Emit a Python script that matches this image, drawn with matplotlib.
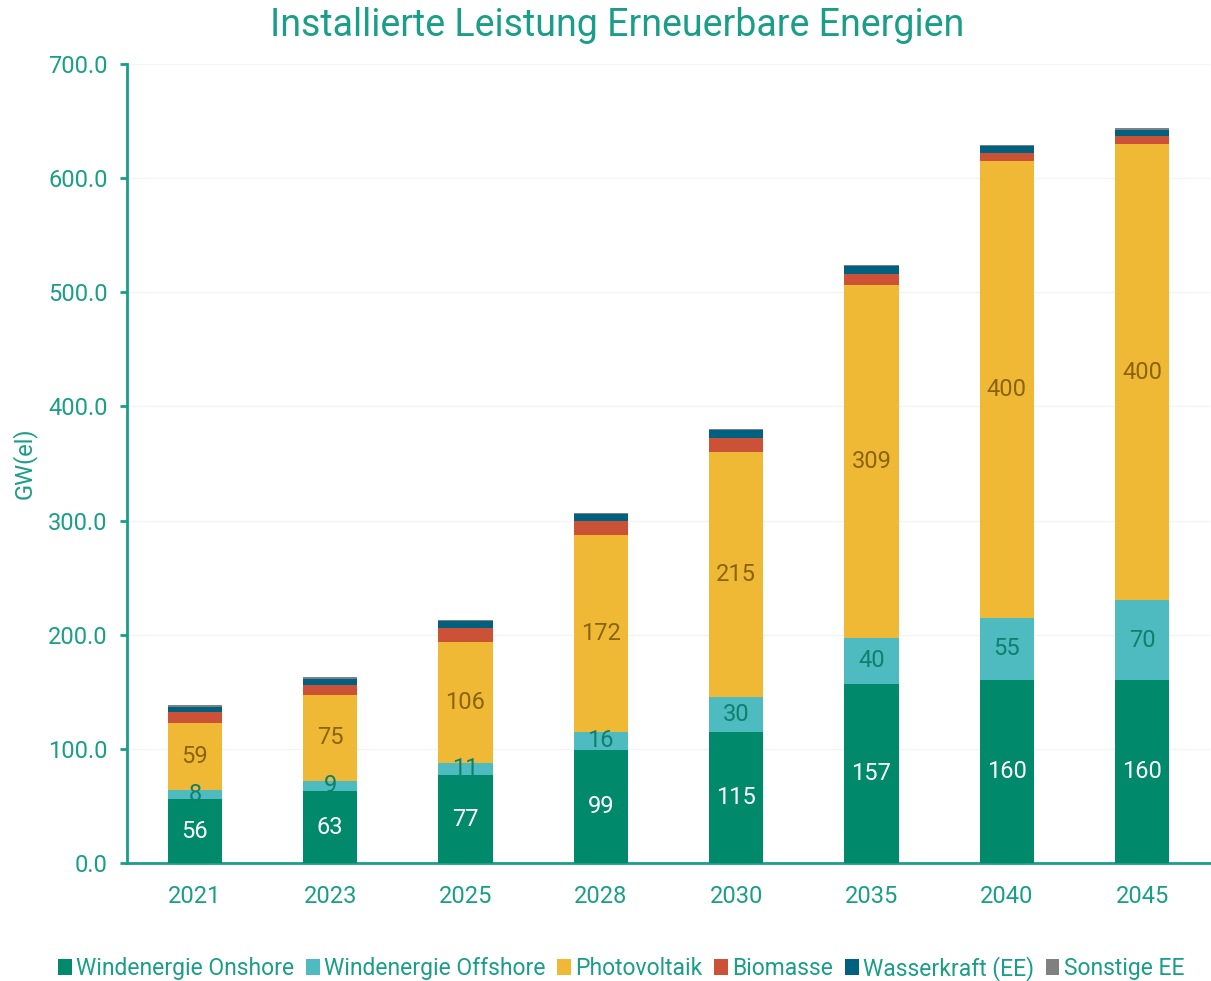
import numpy as np
import matplotlib.pyplot as plt
from matplotlib.ticker import FormatStrFormatter

plt.rcParams['font.family'] = ['Roboto', 'DejaVu Sans']

years = ['2021', '2023', '2025', '2028', '2030', '2035', '2040', '2045']
onshore = [56, 63, 77, 99, 115, 157, 160, 160]
offshore = [8, 9, 11, 16, 30, 40, 55, 70]
pv = [59, 75, 106, 172, 215, 309, 400, 400]
biomasse = [9, 9, 12, 13, 12.6, 10.2, 7.3, 7]
wasser = [5, 5, 5.8, 5.5, 6.4, 6.4, 6.1, 5]
sonstige = [1.5, 1.5, 1.5, 1.5, 1, 1.5, 1, 2]

series = [
    ('Windenergie Onshore', onshore, '#00896b', 'white'),
    ('Windenergie Offshore', offshore, '#4dbbbf', '#10806c'),
    ('Photovoltaik', pv, '#f0b935', '#8a6410'),
    ('Biomasse', biomasse, '#cc5237', None),
    ('Wasserkraft (EE)', wasser, '#00607f', None),
    ('Sonstige EE', sonstige, '#808080', None),
]

teal = '#1a9e88'

fig = plt.figure(figsize=(12.11, 9.81), dpi=100)
ax = fig.add_axes([0.105, 0.1203, 0.894, 0.8145])

x = np.arange(len(years))
bottom = np.zeros(len(years))
for name, vals, color, lab_color in series:
    vals = np.array(vals, dtype=float)
    ax.bar(x, vals, 0.4, bottom=bottom, color=color, label=name, zorder=3)
    if lab_color is not None:
        for xi, b, v in zip(x, bottom, vals):
            ax.text(xi, b + v / 2, f'{v:.0f}', ha='center', va='center',
                    color=lab_color, fontsize=17, zorder=4)
    bottom += vals

ax.set_xlim(-0.5, 7.5)
ax.set_ylim(0, 700)
ax.set_yticks(np.arange(0, 701, 100))
ax.yaxis.set_major_formatter(FormatStrFormatter('%.1f'))
ax.set_xticks(x)
ax.set_xticklabels(years)
ax.grid(axis='y', color='#f4f4f4', linewidth=1, zorder=0)

for s in ['top', 'right']:
    ax.spines[s].set_visible(False)
for s in ['left', 'bottom']:
    ax.spines[s].set_color(teal)
    ax.spines[s].set_linewidth(2)
ax.tick_params(axis='y', colors=teal, labelsize=17, length=5, width=2, pad=9)
ax.tick_params(axis='x', colors=teal, labelsize=17, length=0, pad=16)

ax.set_ylabel('GW(el)', color=teal, fontsize=17, labelpad=8)
fig.text(0.5095, 0.9745, 'Installierte Leistung Erneuerbare Energien',
         ha='center', va='center', color=teal, fontsize=27)

fig.legend(loc='center', bbox_to_anchor=(0.513, 0.013), ncol=6, frameon=False,
           fontsize=16.5, handlelength=0.6, handleheight=0.7, handletextpad=0.2,
           columnspacing=0.5, labelcolor=teal)

fig.savefig('out.png', dpi=100, facecolor='white')
